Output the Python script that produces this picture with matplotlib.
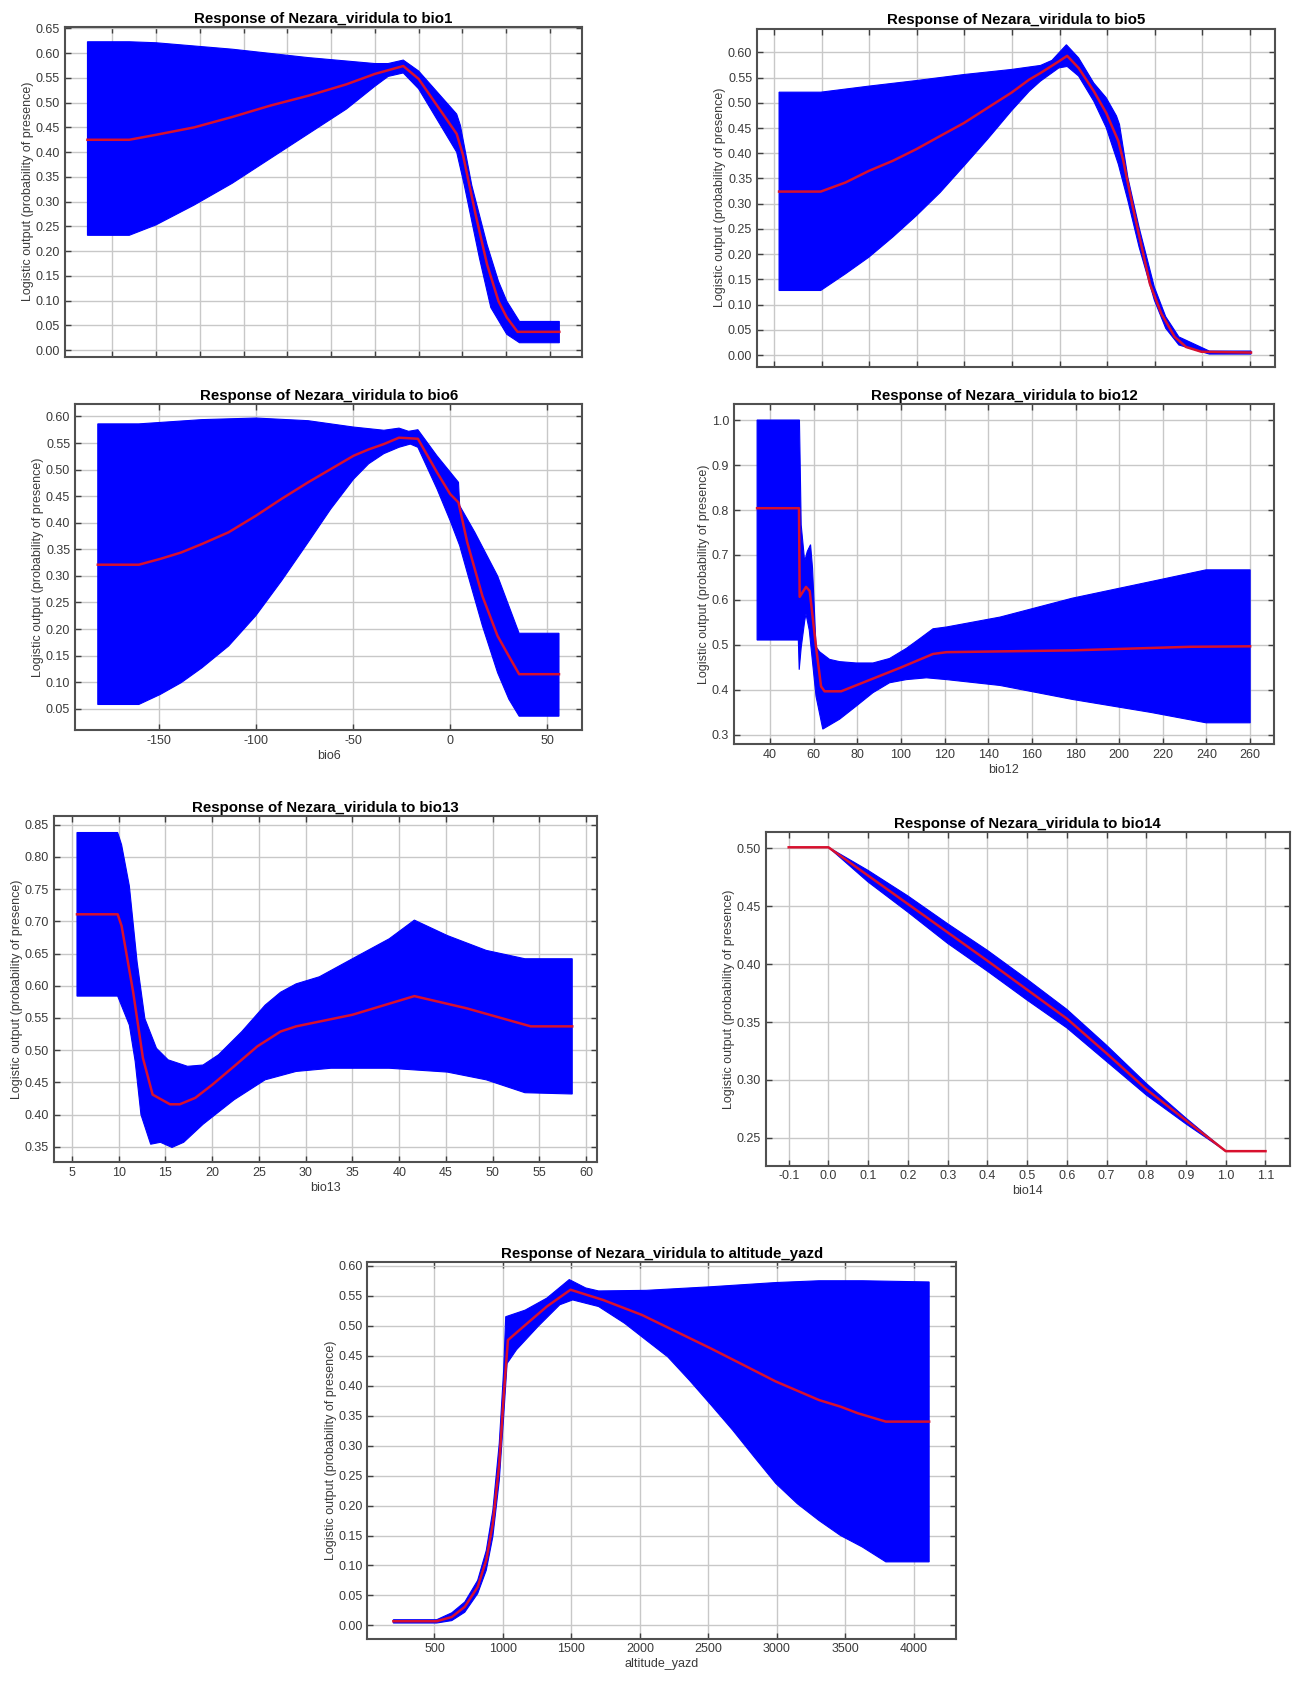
import numpy as np
import matplotlib
matplotlib.use("Agg")
import matplotlib.pyplot as plt
from matplotlib.ticker import FormatStrFormatter

plt.rcParams['font.family'] = ['Liberation Sans', 'DejaVu Sans']
plt.rcParams['axes.unicode_minus'] = False

YLABEL = 'Logistic output (probability of presence)'
SPECIES = 'Nezara_viridula'

# ---- bio1 (x tick labels not shown in the source) ----
bio1_x_mean = [28.7, 47.8, 60, 77.4, 94.8, 112.2, 129.6, 147, 160, 173, 180, 197.4, 200.3, 206.1, 211.3, 216.5, 220.3, 225.2, 244.3]
bio1_mean = [0.425, 0.425, 0.435, 0.450, 0.471, 0.494, 0.514, 0.537, 0.558, 0.574, 0.548, 0.437, 0.394, 0.273, 0.173, 0.099, 0.066, 0.037, 0.037]
bio1_x_up = [28.7, 47.8, 60, 94.8, 129.6, 160, 166.1, 173, 180, 197.4, 199.1, 204.3, 211.3, 216.5, 220.3, 226.1, 244.3]
bio1_up = [0.623, 0.623, 0.621, 0.608, 0.591, 0.579, 0.579, 0.586, 0.564, 0.477, 0.454, 0.333, 0.213, 0.139, 0.099, 0.058, 0.058]
bio1_x_lo = [28.7, 47.8, 60, 77.4, 94.8, 112.2, 129.6, 147, 160, 166.1, 173, 180, 197.4, 200.9, 207.8, 213, 220.3, 226.1, 244.3]
bio1_lo = [0.232, 0.232, 0.253, 0.293, 0.337, 0.387, 0.437, 0.487, 0.533, 0.553, 0.560, 0.528, 0.400, 0.333, 0.186, 0.086, 0.032, 0.015, 0.015]
bio1_xticks = [40, 60, 80, 100, 120, 140, 160, 180, 200, 220, 240]

# ---- bio5 (x tick labels not shown in the source) ----
bio5_x_mean = [202.6, 224.5, 237.5, 249.8, 262.4, 274.7, 287.2, 299.8, 312.2, 324.7, 334.1, 340, 349.6, 354, 360, 368,
               374.5, 380.9, 383.5, 388.5, 397.5, 403.5, 410.5, 416.5, 424.5, 450.6]
bio5_mean = [0.324, 0.324, 0.342, 0.365, 0.385, 0.408, 0.434, 0.46, 0.49, 0.52, 0.546, 0.559, 0.582, 0.593, 0.569, 0.523,
             0.48, 0.424, 0.385, 0.293, 0.141, 0.082, 0.036, 0.016, 0.0066, 0.005]
bio5_x_up = [202.6, 224.5, 249.8, 274.7, 299.8, 324.7, 340, 346, 353.6, 360, 368, 374.5, 379.9, 381.5, 385.9, 391.8,
             399.8, 405.8, 412.7, 428.7, 450.6]
bio5_up = [0.521, 0.521, 0.533, 0.544, 0.556, 0.566, 0.574, 0.584, 0.615, 0.589, 0.539, 0.51, 0.474, 0.457, 0.352, 0.253,
           0.135, 0.076, 0.036, 0.008, 0.008]
bio5_x_lo = [202.6, 224.5, 237.5, 249.8, 262.4, 274.7, 287.2, 299.8, 312.2, 324.7, 334.1, 340, 349.6, 354, 360, 368,
             374.5, 380.9, 385.9, 391.8, 399.8, 405.8, 412.7, 428.7, 450.6]
bio5_lo = [0.128, 0.128, 0.161, 0.194, 0.234, 0.276, 0.322, 0.375, 0.428, 0.484, 0.523, 0.543, 0.569, 0.572, 0.553, 0.503,
           0.451, 0.378, 0.306, 0.214, 0.109, 0.053, 0.020, 0.002, 0.002]
bio5_xticks = [200, 225, 250, 275, 300, 325, 350, 375, 400, 425, 450]

# ---- bio6 ----
bio6_x_mean = [-181.3, -160.2, -149.1, -138.4, -127.7, -114, -100, -86.7, -73.1, -61.4, -49.7, -41.9, -34.1, -26.3, -16.6,
               -6.8, 0, 4.3, 8.8, 16.6, 24.4, 30.2, 35.5, 56]
bio6_mean = [0.321, 0.321, 0.332, 0.344, 0.36, 0.382, 0.413, 0.445, 0.476, 0.501, 0.526, 0.538, 0.548, 0.56, 0.558,
             0.495, 0.454, 0.438, 0.363, 0.262, 0.187, 0.149, 0.115, 0.115]
bio6_x_up = [-181.3, -160.2, -127.7, -100, -73.1, -49.7, -34.1, -26.3, -21.4, -16.6, -6.8, 4.3, 4.9, 12.7, 24.4, 35.5, 56]
bio6_up = [0.586, 0.586, 0.594, 0.597, 0.592, 0.58, 0.574, 0.578, 0.572, 0.575, 0.526, 0.476, 0.432, 0.382, 0.3, 0.192, 0.192]
bio6_x_lo = [-181.3, -160.2, -149.1, -138.4, -127.7, -114, -100, -86.7, -73.1, -61.4, -49.7, -41.9, -34.1, -26.3, -20.5,
             -16.6, -6.8, 0, 4.9, 8.8, 16.6, 24.4, 30.2, 35.5, 56]
bio6_lo = [0.058, 0.058, 0.077, 0.099, 0.127, 0.168, 0.225, 0.291, 0.363, 0.426, 0.482, 0.511, 0.53, 0.542, 0.548,
           0.542, 0.464, 0.404, 0.357, 0.306, 0.206, 0.118, 0.068, 0.036, 0.036]
bio6_xticks = [-150, -100, -50, 0, 50]

# ---- bio12 ----
bio12_x_mean = [34.1, 53.3, 53.6, 56.5, 58.2, 61.1, 63.4, 65, 72.6, 100, 114.7, 120.9, 178.5, 232.6, 260]
bio12_mean = [0.804, 0.804, 0.607, 0.629, 0.62, 0.496, 0.408, 0.397, 0.397, 0.45, 0.48, 0.484, 0.488, 0.496, 0.497]
bio12_x_up = [34.1, 53.5, 53.8, 54.3, 55.9, 57.1, 58.6, 59.5, 61.1, 62.7, 67.3, 71.9, 79.5, 87.2, 94.8, 102.5, 108.6,
              114.7, 120.9, 145.4, 178.5, 214.6, 239.8, 260]
bio12_up = [1.0, 1.0, 0.915, 0.767, 0.686, 0.708, 0.723, 0.671, 0.496, 0.485, 0.468, 0.463, 0.46, 0.46, 0.47, 0.4925,
            0.514, 0.536, 0.54, 0.562, 0.604, 0.641, 0.667, 0.667]
bio12_x_lo = [34.1, 53.0, 53.4, 54.3, 55.9, 56.5, 58.0, 61.1, 64.2, 71.9, 79.5, 87.2, 94.8, 102.5, 111.7, 120.9, 145.4,
              178.5, 214.6, 239.8, 260]
bio12_lo = [0.511, 0.511, 0.445, 0.494, 0.553, 0.569, 0.533, 0.386, 0.313, 0.335, 0.364, 0.394, 0.416, 0.423, 0.427,
            0.423, 0.41, 0.379, 0.35, 0.327, 0.327]
bio12_xticks = [40, 60, 80, 100, 120, 140, 160, 180, 200, 220, 240, 260]

# ---- bio13 ----
bio13_x_mean = [5.54, 9.89, 10.31, 11.55, 12.59, 13.63, 15.49, 16.53, 18.19, 20.06, 22.34, 24.83, 27.31, 28.97, 34.99,
                41.62, 47.22, 54.07, 58.5]
bio13_mean = [0.711, 0.711, 0.693, 0.59, 0.488, 0.431, 0.416, 0.416, 0.426, 0.447, 0.475, 0.506, 0.529, 0.537, 0.555,
              0.584, 0.565, 0.537, 0.537]
bio13_x_up = [5.54, 9.89, 10.31, 11.14, 11.97, 12.8, 14.04, 15.29, 17.36, 19.02, 20.68, 23.17, 25.66, 27.31, 28.97,
              31.46, 34.99, 38.93, 41.62, 45.15, 49.3, 53.44, 58.5]
bio13_up = [0.838, 0.838, 0.819, 0.755, 0.637, 0.549, 0.503, 0.485, 0.475, 0.477, 0.493, 0.529, 0.57, 0.59, 0.603,
            0.614, 0.642, 0.673, 0.702, 0.678, 0.655, 0.642, 0.642]
bio13_x_lo = [5.54, 9.89, 11.14, 11.76, 12.38, 13.42, 14.46, 15.7, 16.95, 19.02, 22.34, 25.66, 28.97, 32.71, 38.93,
              45.15, 49.3, 53.44, 58.5]
bio13_lo = [0.584, 0.584, 0.539, 0.483, 0.40, 0.354, 0.357, 0.349, 0.357, 0.385, 0.423, 0.454, 0.467, 0.472, 0.472,
            0.466, 0.454, 0.434, 0.432]
bio13_xticks = [5, 10, 15, 20, 25, 30, 35, 40, 45, 50, 55, 60]

# ---- bio14 ----
bio14_x_mean = [-0.1, 0.0, 0.2, 0.4, 0.6, 0.7, 0.8, 0.9, 1.0, 1.1]
bio14_mean = [0.501, 0.501, 0.452, 0.403, 0.353, 0.323, 0.292, 0.265, 0.2385, 0.2385]
bio14_x_up = [0.0, 0.1, 0.2, 0.3, 0.4, 0.5, 0.6, 0.7, 0.8, 0.9, 1.0]
bio14_up = [0.501, 0.481, 0.459, 0.435, 0.412, 0.387, 0.361, 0.330, 0.297, 0.267, 0.2385]
bio14_x_lo = [0.0, 0.1, 0.2, 0.3, 0.4, 0.5, 0.6, 0.7, 0.8, 0.9, 1.0]
bio14_lo = [0.501, 0.471, 0.445, 0.418, 0.394, 0.369, 0.345, 0.316, 0.287, 0.262, 0.2385]
bio14_xticks = [-0.1, 0.0, 0.1, 0.2, 0.3, 0.4, 0.5, 0.6, 0.7, 0.8, 0.9, 1.0, 1.1]

# ---- altitude_yazd ----
alt_x_mean = [200, 516, 626, 721, 815, 878, 926, 973, 1005, 1036, 1162, 1320, 1493, 1730, 2014, 2266, 2518, 2755, 2991,
              3307, 3464, 3590, 3795, 4111]
alt_mean = [0.007, 0.007, 0.014, 0.031, 0.064, 0.109, 0.17, 0.27, 0.382, 0.476, 0.501, 0.532, 0.56, 0.543, 0.518, 0.49,
            0.462, 0.4345, 0.407, 0.376, 0.365, 0.354, 0.34, 0.34]
alt_x_up = [200, 516, 626, 721, 815, 878, 926, 973, 1005, 1020, 1162, 1320, 1484, 1604, 1698, 2045, 2518, 2991, 3307, 3622, 4111]
alt_up = [0.0095, 0.0095, 0.021, 0.039, 0.075, 0.125, 0.192, 0.304, 0.426, 0.515, 0.526, 0.546, 0.577, 0.563, 0.558,
          0.559, 0.565, 0.572, 0.575, 0.575, 0.573]
alt_x_lo = [200, 516, 626, 721, 815, 878, 926, 973, 1005, 1030, 1099, 1257, 1415, 1509, 1698, 1793, 1888, 2045, 2203,
            2361, 2518, 2676, 2834, 2991, 3149, 3307, 3464, 3622, 3795, 4111]
alt_lo = [0.004, 0.004, 0.008, 0.022, 0.053, 0.092, 0.148, 0.242, 0.348, 0.437, 0.46, 0.499, 0.535, 0.543, 0.532, 0.518,
          0.504, 0.476, 0.448, 0.409, 0.368, 0.326, 0.281, 0.237, 0.203, 0.175, 0.150, 0.131, 0.106, 0.106]
alt_xticks = [500, 1000, 1500, 2000, 2500, 3000, 3500, 4000]


def responsePanel(rect, var, x_mean, mean, x_up, up, x_lo, lo, xlim, ylim, xticks, yticks,
                  yfmt, xfmt=None, xlabel=None, show_xlabels=True):
    ax = fig.add_axes(rect)
    poly_x = np.concatenate([x_up, x_lo[::-1]])
    poly_y = np.concatenate([up, lo[::-1]])
    ax.fill(poly_x, poly_y, color='#0000ff', lw=0.8, ec='#0000ff', zorder=2)
    ax.plot(x_mean, mean, color='#d8102e', lw=1.8, zorder=3)
    ax.set_xlim(xlim)
    ax.set_ylim(ylim)
    ax.set_xticks(xticks)
    ax.set_yticks(yticks)
    ax.yaxis.set_major_formatter(FormatStrFormatter(yfmt))
    if xfmt:
        ax.xaxis.set_major_formatter(FormatStrFormatter(xfmt))
    if not show_xlabels:
        ax.set_xticklabels([])
    ax.grid(True, color='#c8c8c8', lw=1.0, zorder=0)
    ax.set_axisbelow(True)
    ax.tick_params(direction='in', length=4, width=1, colors='#404040', labelsize=9,
                   top=True, right=True, labelcolor='#3a3a3a')
    for s in ax.spines.values():
        s.set_color('#505050')
        s.set_linewidth(1.5)
    ax.set_title(f'Response of {SPECIES} to {var}', fontsize=10.8, fontweight='bold', pad=3)
    ax.set_ylabel(YLABEL, fontsize=9, color='#3a3a3a', labelpad=1)
    if xlabel:
        ax.set_xlabel(xlabel, fontsize=9, color='#3a3a3a', labelpad=2)
    return ax


fig = plt.figure(figsize=(12.94, 16.82), dpi=100)

yt = lambda a, b, s: np.round(np.arange(a, b + s / 2, s), 2)

responsePanel([0.050, 0.788, 0.400, 0.196], 'bio1', bio1_x_mean, bio1_mean, bio1_x_up, bio1_up, bio1_x_lo, bio1_lo,
              (18.3, 254.8), (-0.013, 0.653), bio1_xticks, yt(0, 0.65, 0.05), '%.2f', show_xlabels=False)
responsePanel([0.585, 0.782, 0.400, 0.201], 'bio5', bio5_x_mean, bio5_mean, bio5_x_up, bio5_up, bio5_x_lo, bio5_lo,
              (191, 463), (-0.023, 0.647), bio5_xticks, yt(0, 0.60, 0.05), '%.2f', show_xlabels=False)
responsePanel([0.058, 0.566, 0.392, 0.194], 'bio6', bio6_x_mean, bio6_mean, bio6_x_up, bio6_up, bio6_x_lo, bio6_lo,
              (-193, 68), (0.010, 0.624), bio6_xticks, yt(0.05, 0.60, 0.05), '%.2f', xlabel='bio6')
responsePanel([0.5672, 0.5577, 0.4173, 0.2021], 'bio12', bio12_x_mean, bio12_mean, bio12_x_up, bio12_up, bio12_x_lo, bio12_lo,
              (23.5, 270.9), (0.280, 1.0356), bio12_xticks, yt(0.3, 1.0, 0.1), '%.1f', xlabel='bio12')
responsePanel([0.0415, 0.309, 0.4195, 0.206], 'bio13', bio13_x_mean, bio13_mean, bio13_x_up, bio13_up, bio13_x_lo, bio13_lo,
              (3.05, 61.1), (0.326, 0.864), bio13_xticks, yt(0.35, 0.85, 0.05), '%.2f', xlabel='bio13')
responsePanel([0.5917, 0.3070, 0.4050, 0.1982], 'bio14', bio14_x_mean, bio14_mean, bio14_x_up, bio14_up, bio14_x_lo, bio14_lo,
              (-0.158, 1.161), (0.226, 0.514), bio14_xticks, yt(0.25, 0.50, 0.05), '%.2f', xfmt='%.1f', xlabel='bio14')
responsePanel([0.284, 0.0258, 0.455, 0.2238], 'altitude_yazd', alt_x_mean, alt_mean, alt_x_up, alt_up, alt_x_lo, alt_lo,
              (11, 4309), (-0.022, 0.606), alt_xticks, yt(0, 0.60, 0.05), '%.2f', xlabel='altitude_yazd')

fig.savefig('out.png', dpi=100, facecolor='white')
